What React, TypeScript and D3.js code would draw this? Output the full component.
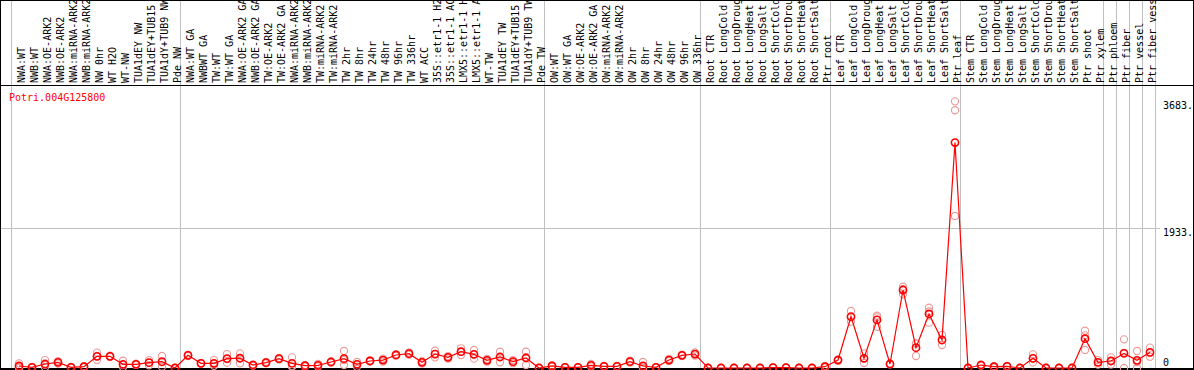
import React from "react";
import * as d3 from "d3";

const title = "Potri.004G125800";

const labels = [
  "NWA:WT", "NWB:WT", "NWA:OE-ARK2", "NWB:OE-ARK2", "NWA:miRNA-ARK2", "NWB:miRNA-ARK2",
  "NW 0hr", "WT H2O", "WT-NW", "TUA1dEY NW", "TUA1dEY+TUB15", "TUA1dY+TUB9 NW", "Pde NW",
  "NWA:WT GA", "NWBWT GA", "TW:WT", "TW:WT GA", "NWA:OE-ARK2 GA", "NWB:OE-ARK2 GA",
  "TW:OE-ARK2", "TW:OE-ARK2 GA", "NWA:miRNA-ARK2 GA", "NWB:miRNA-ARK2 GA", "TW:miRNA-ARK2",
  "TW:miRNA-ARK2", "TW 2hr", "TW 8hr", "TW 24hr", "TW 48hr", "TW 96hr", "TW 336hr", "WT ACC",
  "35S::etr1-1 H2O", "35S::etr1-1 ACC", "LMX5::etr1-1 H2O", "LMX5::etr1-1 ACC", "WT-TW",
  "TUA1dEY TW", "TUA1dEY+TUB15", "TUA1dY+TUB9 TW", "Pde TW",
  "OW:WT", "OW:WT GA", "OW:OE-ARK2", "OW:OE-ARK2 GA", "OW:miRNA-ARK2", "OW:miRNA-ARK2",
  "OW 2hr", "OW 8hr", "OW 24hr", "OW 48hr", "OW 96hr", "OW 336hr",
  "Root CTR", "Root LongCold", "Root LongDrought", "Root LongHeat", "Root LongSalt",
  "Root ShortCold", "Root ShortDrought", "Root ShortHeat", "Root ShortSalt", "Ptr root",
  "Leaf CTR", "Leaf LongCold", "Leaf LongDrought", "Leaf LongHeat", "Leaf LongSalt",
  "Leaf ShortCold", "Leaf ShortDrought", "Leaf ShortHeat", "Leaf ShortSalt", "Ptr leaf",
  "Stem CTR", "Stem LongCold", "Stem LongDrought", "Stem LongHeat", "Stem LongSalt",
  "Stem ShortCold", "Stem ShortDrought", "Stem ShortHeat", "Stem ShortSalt", "Ptr shoot",
  "Ptr xylem", "Ptr phloem", "Ptr fiber", "Ptr vessel", "Ptr fiber vessel",
];

// mean expression per sample
const meanValues = [
  28, 10, 55, 78, 10, 18, 161, 161, 51, 51, 74, 88, 0,
  175, 64, 65, 130, 135, 41, 74, 129, 64, 32, 37, 83, 129, 51, 97, 110, 180, 198, 78,
  193, 147, 225, 189, 106, 152, 88, 138, 0,
  28, 10, 10, 37, 23, 23, 88, 28, 10, 110, 175, 193,
  0, 0, 0, 0, 0, 5, 5, 0, 0, 18,
  110, 709, 134, 664, 55, 1077, 281, 746, 387, 3114,
  0, 41, 18, 22, 0, 133, 0, 0, 0, 405, 78,
  97, 202, 106, 216,
];

// replicate values
const rep1 = [
  64, 15, 110, 95, 15, 25, 212, 170, 101, 60, 110, 166, 0,
  185, 70, 110, 193, 202, 50, 85, 140, 147, 40, 55, 90, 235, 83, 105, 130, 190, 215, 95,
  239, 165, 272, 249, 125, 225, 110, 225, 0,
  35, 12, 12, 55, 28, 28, 100, 83, 12, 125, 185, 215,
  0, 0, 0, 0, 0, 10, 10, 0, 0, 30,
  120, 787, 202, 722, 60, 1123, 341, 833, 456, 3683,
  0, 50, 25, 30, 0, 189, 0, 0, 0, 515, 110,
  147, 396, 235, 281,
];
const rep2 = [
  20, 10, 45, 78, 10, 18, 161, 161, 40, 51, 74, 80, 0,
  175, 64, 55, 124, 138, 41, 74, 129, 30, 32, 37, 83, 110, 51, 97, 110, 180, 198, 78,
  193, 147, 225, 189, 106, 152, 88, 150, 0,
  28, 10, 10, 37, 23, 23, 88, 0, 10, 110, 175, 193,
  0, 0, 0, 0, 0, 5, 5, 0, 0, 18,
  110, 700, 133, 700, 55, 1090, 336, 780, 387, 3560,
  0, 41, 18, 22, 0, 133, 0, 0, 0, 451, 78,
  97, 210, 83, 211,
];
const rep3 = [
  0, 5, 10, 60, 5, 10, 110, 152, 12, 42, 38, 18, 0,
  165, 58, 30, 74, 64, 32, 63, 118, 15, 24, 20, 76, 41, 18, 89, 90, 170, 181, 61,
  147, 129, 178, 129, 87, 79, 66, 41, 0,
  21, 8, 8, 19, 18, 18, 76, 0, 8, 95, 165, 171,
  0, 0, 0, 0, 0, 0, 0, 0, 0, 6,
  100, 640, 69, 570, 50, 1017, 166, 626, 318, 2100,
  0, 32, 11, 14, 0, 77, 0, 0, 0, 249, 46,
  47, 0, 0, 156,
];

const yTickValues = [0, 1933, 3683];
const yTickLabels = ["0", "1933.", "3683."];
const gridValues = [1933];
const groupBreaks = [0, 13, 41, 53, 63, 73, 84, 85, 86, 87, 88];

export default function App() {
  const W = 1194;
  const H = 370;
  const n = labels.length;
  const x = d3.scaleLinear().domain([0, n]).range([11, 1155]);
  const px = (i: number) => x(i) + 8;
  const y = d3.scaleLinear().domain([0, 3683 * 1.05]).range([368, 88]);

  const line = d3
    .line<number>()
    .x((_, i) => px(i))
    .y((d) => y(d));

  const reps = [rep1, rep2, rep3];
  const mono = "'DejaVu Sans Mono', monospace";

  return (
    <div>
      <style>{`body{margin:0}`}</style>
      <svg width={W} height={H} style={{ display: "block" }}>
        <rect x={0} y={0} width={W} height={H} fill="#fff" />
        {groupBreaks.map((k) => (
          <line
            key={"g" + k}
            x1={Math.round(x(k)) + 0.5}
            x2={Math.round(x(k)) + 0.5}
            y1={0}
            y2={H}
            stroke="#c0c0c0"
            strokeWidth={1}
          />
        ))}
        {gridValues.map((v) => (
          <line
            key={"h" + v}
            x1={0}
            x2={1160}
            y1={Math.round(y(v)) + 0.5}
            y2={Math.round(y(v)) + 0.5}
            stroke="#c0c0c0"
            strokeWidth={1}
          />
        ))}
        {labels.map((l, i) => (
          <text
            key={"l" + i}
            transform={`translate(${x(i) + 13.5},83) rotate(-90)`}
            fontFamily={mono}
            fontSize={10}
            fill="#000"
          >
            {l}
          </text>
        ))}
        <line x1={0} x2={W} y1={85.5} y2={85.5} stroke="#000" />
        <line x1={0.5} x2={0.5} y1={0} y2={H} stroke="#000" />
        <line x1={1193.5} x2={1193.5} y1={0} y2={H} stroke="#000" />
        <line x1={0} x2={W} y1={0.5} y2={0.5} stroke="#000" />
        <line x1={0} x2={W} y1={369} y2={369} stroke="#000" strokeWidth={2} />

        <text x={9} y={101} fontFamily={mono} fontSize={10} fill="#ff0000">
          {title}
        </text>

        {yTickValues.map((v, i) => (
          <text
            key={"t" + v}
            x={1163}
            y={Math.min(y(v) + 8, 366)}
            fontFamily={mono}
            fontSize={10}
            fill="#000"
          >
            {yTickLabels[i]}
          </text>
        ))}

        {reps.map((r, ri) =>
          r.map((v, i) => (
            <circle
              key={`r${ri}-${i}`}
              cx={px(i)}
              cy={y(v)}
              r={3.6}
              fill="none"
              stroke="#eb9a9a"
              strokeWidth={1.1}
            />
          ))
        )}

        <path d={line(meanValues) || ""} fill="none" stroke="#ff0000" strokeWidth={1.2} />

        {meanValues.map((v, i) => (
          <circle
            key={"m" + i}
            cx={px(i)}
            cy={y(v)}
            r={3.6}
            fill="none"
            stroke="#ff0000"
            strokeWidth={1.6}
          />
        ))}
      </svg>
    </div>
  );
}
